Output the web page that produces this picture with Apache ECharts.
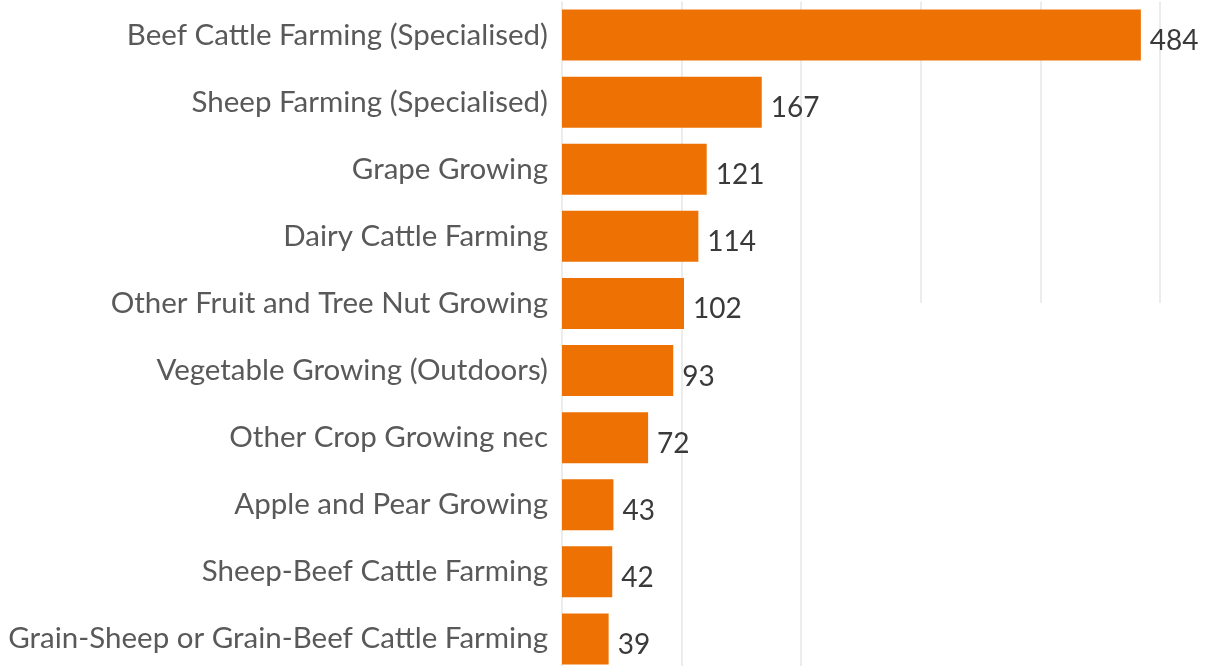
<!DOCTYPE html>
<html>
<head>
<meta charset="utf-8">
<script src="https://cdn.jsdelivr.net/npm/echarts@6/dist/echarts.min.js"></script>
<style>html,body{margin:0;padding:0;background:#fff;overflow:hidden;}#c{width:1208px;height:680px;}</style>
</head>
<body>
<div id="c"></div>
<script>
const categories = [
  "Beef Cattle Farming (Specialised)",
  "Sheep Farming (Specialised)",
  "Grape Growing",
  "Dairy Cattle Farming",
  "Other Fruit and Tree Nut Growing",
  "Vegetable Growing (Outdoors)",
  "Other Crop Growing nec",
  "Apple and Pear Growing",
  "Sheep-Beef Cattle Farming",
  "Grain-Sheep or Grain-Beef Cattle Farming"
];
const values = [484, 167, 121, 114, 102, 93, 72, 43, 42, 39];
const xTicks = [0, 100, 200, 300, 400, 500];

const chart = echarts.init(document.getElementById('c'), null, {renderer: 'canvas'});
chart.setOption({
  animation: false,
  backgroundColor: '#ffffff',
  grid: {left: 562, right: 48, top: 1.5, height: 671, containLabel: false},
  xAxis: {
    type: 'value', min: xTicks[0], max: xTicks[xTicks.length - 1], interval: 100,
    axisLine: {show: false}, axisTick: {show: false}, axisLabel: {show: false},
    splitLine: {show: true, lineStyle: {color: '#e6e6e6', width: 1.5}}
  },
  yAxis: {
    type: 'category', data: categories, inverse: true,
    axisLine: {show: false}, axisTick: {show: false},
    axisLabel: {color: '#595959', fontSize: 29.5, fontFamily: 'Lato', margin: 14}
  },
  series: [{
    type: 'bar', data: values, barCategoryGap: '24%', z: 3,
    itemStyle: {color: '#EE7203'},
    label: {show: true, position: 'right', distance: 9, offset: [0, 6],
      color: '#3a3a3a', fontSize: 28, fontFamily: 'Lato'}
  }],
  graphic: [{
    type: 'rect', left: 860, top: 303, z: 1,
    shape: {width: 348, height: 377},
    style: {fill: '#ffffff'}
  }]
});
</script>
</body>
</html>
